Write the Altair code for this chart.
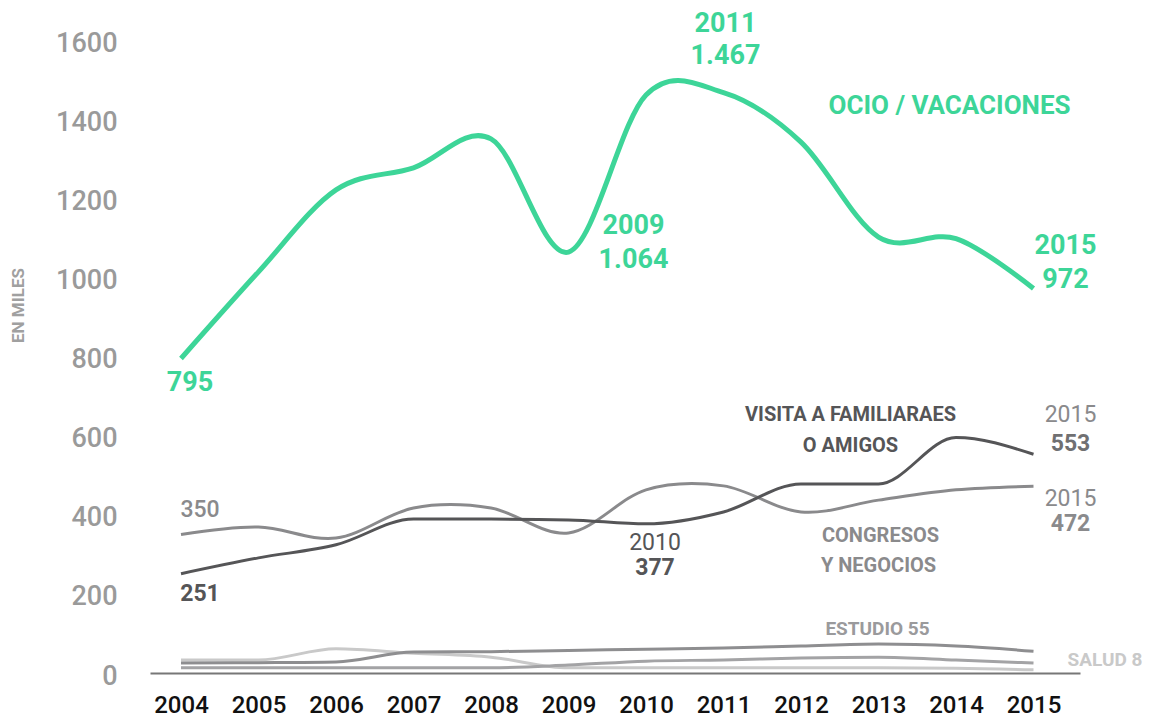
import altair as alt
import pandas as pd

# ---------------- data ----------------
years = list(range(2004, 2016))
ocio = [795, 1014, 1221, 1277, 1350, 1064, 1461, 1467, 1342, 1102, 1098, 972]
visita = [251, 291, 324, 389, 389, 387, 377, 407, 478, 478, 595, 553]
congresos = [350, 369, 341, 417, 417, 354, 463, 473, 407, 437, 463, 472]
estudio = [25, 26, 28, 53, 54, 57, 60, 63, 68, 73, 68, 55]
otros = [13, 13, 13, 13, 13, 20, 30, 33, 38, 40, 33, 25]
salud = [33, 33, 61, 50, 40, 13, 13, 13, 13, 13, 12, 8]
y_ticks = [0, 200, 400, 600, 800, 1000, 1200, 1400, 1600]

series = {
    "ocio": ocio,
    "visita": visita,
    "congresos": congresos,
    "estudio": estudio,
    "otros": otros,
    "salud": salud,
}

GREEN = "#3dd598"
DARK = "#555557"
MID = "#8a8a8c"

line_styles = [
    ("salud", "#c9c9c9", 3, "monotone"),
    ("otros", "#a3a3a5", 3, "monotone"),
    ("estudio", "#8e8e90", 3, "monotone"),
    ("congresos", MID, 3, "cardinal"),
    ("visita", DARK, 3, "monotone"),
    ("ocio", GREEN, 5, "cardinal"),
]

df = pd.DataFrame(
    [{"serie": k, "year": yr, "value": v} for k, vals in series.items() for yr, v in zip(years, vals)]
)

x_enc = alt.X(
    "year:Q",
    scale=alt.Scale(domain=[2003.6, 2015.6], nice=False, zero=False),
    axis=alt.Axis(
        values=years, format="d", title=None, grid=False, ticks=False,
        domainColor="#777777", domainWidth=2,
        labelColor="#111111", labelFont="Roboto", labelFontSize=24, labelFontWeight=500,
        labelPadding=20,
    ),
)
y_enc = alt.Y(
    "value:Q",
    scale=alt.Scale(domain=[0, 1600], nice=False),
    axis=alt.Axis(
        values=y_ticks, format="d", title="EN MILES", grid=False, ticks=False, domain=False,
        labelColor="#9a9a9a", labelFont="Roboto", labelFontSize=27, labelFontWeight=500,
        labelPadding=33, labelOffset=3,
        titleColor="#a0a0a0", titleFont="Roboto", titleFontSize=17, titleFontWeight="bold",
        titleX=-132, titleY=265, titleAlign="center", titleBaseline="middle", titleAngle=270,
    ),
)

layers = []
for name, color, width, interp in line_styles:
    layers.append(
        alt.Chart(df).transform_filter(alt.datum.serie == name)
        .mark_line(color=color, strokeWidth=width, interpolate=interp, strokeCap="butt")
        .encode(x=x_enc, y=y_enc)
    )

# ---------------- annotations (anchored on data points) ----------------
# (text, series, year, dx, dy, color, size, weight, align)
labels = [
    ("795", "ocio", 2004, 9, 25, GREEN, 27, "bold", "center"),
    ("2009", "ocio", 2009, 65, -26, GREEN, 27, "bold", "center"),
    ("1.064", "ocio", 2009, 65, 8, GREEN, 27, "bold", "center"),
    ("2011", "ocio", 2011, 2, -69, GREEN, 27, "bold", "center"),
    ("1.467", "ocio", 2011, 2, -37, GREEN, 27, "bold", "center"),
    ("2015", "ocio", 2015, 32, -42, GREEN, 27, "bold", "center"),
    ("972", "ocio", 2015, 32, -8, GREEN, 27, "bold", "center"),
    ("OCIO / VACACIONES", "ocio", 2013, 71, -131, GREEN, 26, "bold", "center"),
    ("350", "congresos", 2004, 19, -25, MID, 23, 500, "center"),
    ("251", "visita", 2004, 19, 20, DARK, 23, "bold", "center"),
    ("2010", "visita", 2010, 9, 19, DARK, 23, "normal", "center"),
    ("377", "visita", 2010, 9, 44, DARK, 23, "bold", "center"),
    ("VISITA A FAMILIARAES", "visita", 2013, -28, -69, DARK, 20, "bold", "center"),
    ("O AMIGOS", "visita", 2013, -28, -38, DARK, 20, "bold", "center"),
    ("2015", "visita", 2015, 37, -39, MID, 23, "normal", "center"),
    ("553", "visita", 2015, 37, -10, "#707072", 23, "bold", "center"),
    ("2015", "congresos", 2015, 37, 13, MID, 23, "normal", "center"),
    ("472", "congresos", 2015, 37, 38, MID, 23, "bold", "center"),
    ("CONGRESOS", "congresos", 2013, 2, 36, MID, 20, "bold", "center"),
    ("Y NEGOCIOS", "congresos", 2013, 0, 66, MID, 20, "bold", "center"),
    ("ESTUDIO 55", "estudio", 2013, -1, -15, "#9a9a9c", 19, "bold", "center"),
    ("SALUD 8", "salud", 2015, 34, -10, "#c9c9c9", 19, "bold", "left"),
]

for text, name, yr, dx, dy, color, size, weight, align in labels:
    val = series[name][years.index(yr)]
    d = pd.DataFrame([{"year": yr, "value": val, "label": text}])
    layers.append(
        alt.Chart(d).mark_text(
            dx=dx, dy=dy, color=color, fontSize=size, fontWeight=weight,
            font="Roboto", align=align, baseline="middle",
        ).encode(x=x_enc, y=y_enc, text="label:N")
    )

chart = (
    alt.layer(*layers)
    .properties(
        width=930, height=633,
        padding={"left": 142, "top": 32, "right": 69, "bottom": 44},
        autosize=alt.AutoSizeParams(type="none"),
        background="white",
    )
    .configure_view(stroke=None)
)

chart.save("out.html", embed_options={"renderer": "svg", "actions": False})
